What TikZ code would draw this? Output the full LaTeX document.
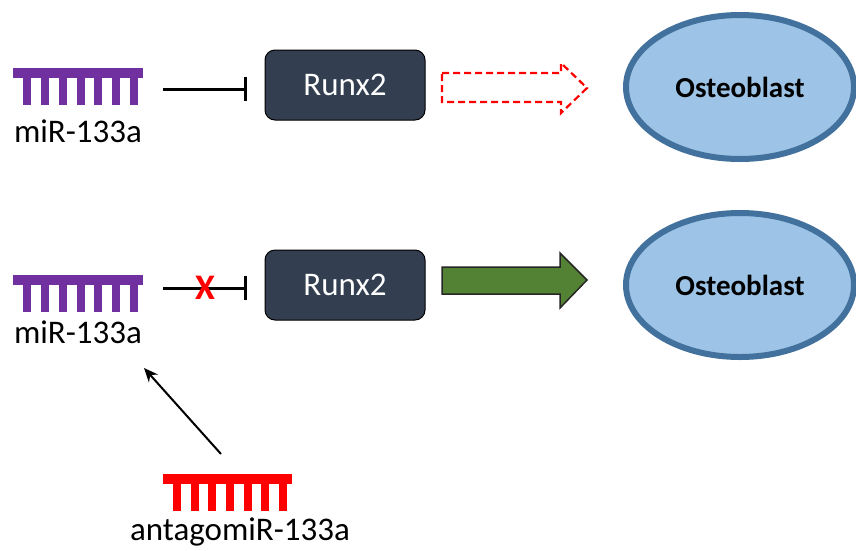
\documentclass[tikz,border=0pt]{standalone}
\usepackage{fontspec}
\setmainfont{Carlito}
\usetikzlibrary{shapes.geometric,arrows.meta}
\definecolor{mirpurple}{HTML}{7030A0}
\definecolor{boxdark}{HTML}{333F50}
\definecolor{ellfill}{HTML}{9DC3E6}
\definecolor{elldraw}{HTML}{41719C}
\definecolor{arrgreen}{HTML}{548235}
\newcommand{\mycomb}[4]{% x, y(top), width, colour
  \fill[#4] (#1,#2) rectangle ++(#3,10);
  \foreach \k in {0,...,6}{\fill[#4] ({#1+10+\k*(#3-23)/6},#2) rectangle ++(8,37);}
}
\tikzset{
  lbl/.style={font=\fontsize{33}{38}\selectfont, inner sep=0pt},
  runx/.style={draw=black, line width=1pt, fill=boxdark, rounded corners=10pt, minimum width=160pt, minimum height=70pt, text=white, font=\fontsize{33}{38}\selectfont},
  osteo/.style={ellipse, draw=elldraw, line width=6pt, fill=ellfill, minimum width=228pt, minimum height=144pt, inner sep=0pt, font=\bfseries\fontsize{29}{34}\selectfont},
  inhib/.style={line width=3pt, -{Bar[width=24pt,line width=3pt]}},
  dasharrow/.style={draw=red, dashed, dash pattern=on 7pt off 4pt, line width=2.2pt, line join=miter},
  greenarrow/.style={draw=black!85, fill=arrgreen, line width=1.5pt, line join=miter},
}
\begin{document}
\begin{tikzpicture}[x=1pt,y=-1pt]
\useasboundingbox (0,0) rectangle (856,550);
% top row
\mycomb{13}{68}{130}{mirpurple}
\node[lbl] (mirA) at (78,131) {miR-133a};
\coordinate (inhA) at (163,89);
\coordinate (barA) at (247,89);
\node[runx] (runxA) at (345,85) {Runx2};
\draw[inhib] (inhA) -- (barA);
\draw[dasharrow] (442,73) -- (561,73) -- (561,63) -- (587,88) -- (561,113) -- (561,102) -- (442,102) -- cycle;
\node[osteo] (osA) at (740,87) {Osteoblast};
% bottom row
\mycomb{13}{275}{130}{mirpurple}
\node[lbl] (mirB) at (78,332) {miR-133a};
\coordinate (inhB) at (163,288);
\coordinate (barB) at (247,288);
\node[runx] (runxB) at (345,285) {Runx2};
\draw[inhib] (inhB) -- (barB);
\node[text=red, font=\bfseries\fontsize{36}{40}\selectfont, inner sep=0pt] (xmark) at (205,288) {X};
\draw[greenarrow] (442,267) -- (560,267) -- (560,253) -- (587,280) -- (560,308) -- (560,294) -- (442,294) -- cycle;
\node[osteo] (osB) at (740,285) {Osteoblast};
% antagomiR
\mycomb{163}{474}{129}{red}
\node[lbl] (anta) at (240,532) {antagomiR-133a};
\coordinate (antaTop) at (221,454);
\coordinate (mirTarget) at (144,368);
\draw[line width=2pt, -{Stealth[length=14pt,width=12pt]}] (antaTop) -- (mirTarget);
\end{tikzpicture}
\end{document}
